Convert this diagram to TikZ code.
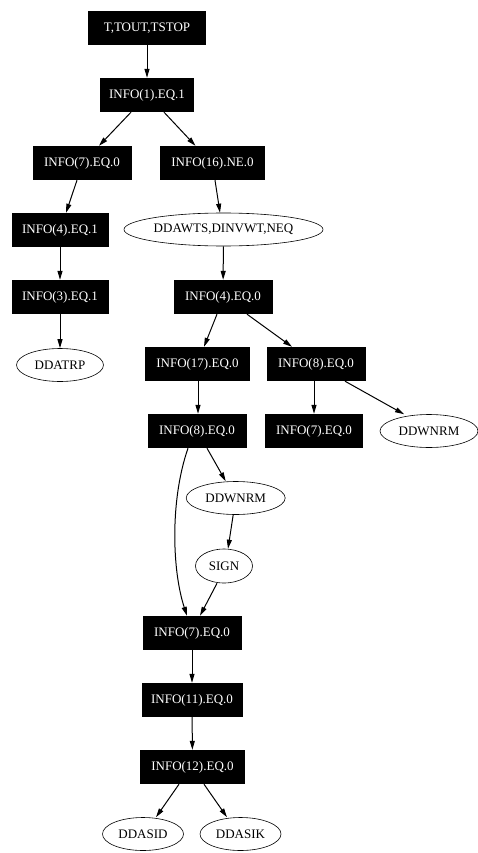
\documentclass[tikz,border=0pt]{standalone}
\usepackage{fontspec}
\setmainfont{Liberation Serif}
\usetikzlibrary{arrows.meta,shapes.geometric}
\begin{document}
\begin{tikzpicture}[x=1pt,y=-1pt,
  font=\fontsize{13}{15}\selectfont,
  cond/.style={fill=black,text=white,minimum height=34pt,inner sep=0pt,minimum width=#1},
  cond/.default=99pt,
  call/.style={draw,ellipse,line width=0.6pt,minimum height=33pt,inner sep=0pt,minimum width=#1},
  call/.default=99pt,
  flow/.style={line width=1pt,-{Triangle[length=9pt,width=5pt]}}]
\useasboundingbox (0,0) rectangle (478,853);
% left branch and top
\node[cond=118pt] (top) at (147,28) {T,TOUT,TSTOP};
\node[cond=94pt] (i1) at (147,95) {INFO(1).EQ.1};
\node[cond=99pt] (i7a) at (82,163) {INFO(7).EQ.0};
\node[cond=105pt] (i16) at (212.5,163) {INFO(16).NE.0};
\node[cond=97pt] (i4a) at (60,230) {INFO(4).EQ.1};
\node[call=199pt] (wts) at (223.5,229.5) {DDAWTS,DINVWT,NEQ};
\node[cond=97pt] (i3) at (60,297) {INFO(3).EQ.1};
\node[cond=99pt] (i4b) at (223,297) {INFO(4).EQ.0};
\node[call=87pt] (trp) at (60,365) {DDATRP};
% right branch
\node[cond=105pt] (i17) at (197.5,364) {INFO(17).EQ.0};
\node[cond=99pt] (i8r) at (316,364) {INFO(8).EQ.0};
\node[cond=99pt] (i8m) at (197,431) {INFO(8).EQ.0};
\node[cond=98pt] (i7r) at (314,431) {INFO(7).EQ.0};
\node[call=98pt] (nrmr) at (429,431) {DDWNRM};
\node[call=99pt] (nrmm) at (235.7,498) {DDWNRM};
\node[call=57pt,minimum height=34pt] (sign) at (224,566) {SIGN};
% lower chain
\node[cond=99pt] (i7b) at (192,633) {INFO(7).EQ.0};
\node[cond=101pt] (i11) at (192,700) {INFO(11).EQ.0};
\node[cond=105pt] (i12) at (192.5,767) {INFO(12).EQ.0};
\node[call=81pt] (sid) at (143,834) {DDASID};
\node[call=81pt] (sik) at (240.5,834) {DDASIK};
% connectors
\draw[flow] (top) -- (i1);
\draw[flow] ([xshift=-16pt]i1.south) -- ([xshift=17pt]i7a.north);
\draw[flow] ([xshift=17pt]i1.south) -- ([xshift=-17pt]i16.north);
\draw[flow] ([xshift=-5pt]i7a.south) -- ([xshift=6pt]i4a.north);
\draw[flow] ([xshift=2.5pt]i16.south) -- ([xshift=-3.5pt]wts.north);
\draw[flow] (i4a) -- (i3);
\draw[flow] (wts) -- (i4b);
\draw[flow] (i3) -- (trp);
\draw[flow] ([xshift=-6pt]i4b.south) -- ([xshift=6.5pt]i17.north);
\draw[flow] ([xshift=24pt]i4b.south) -- ([xshift=-24pt]i8r.north);
\draw[flow] ([xshift=0.5pt]i17.south) -- ([xshift=1pt]i8m.north);
\draw[flow] ([xshift=-2pt]i8r.south) -- (i7r.north);
\draw[flow] ([xshift=29pt]i8r.south) -- ([xshift=-25pt]nrmr.north);
\draw[flow] ([xshift=10pt]i8m.south) -- ([xshift=-10pt]nrmm.north);
\draw[flow] ([xshift=-9pt]i8m.south) .. controls (170,500) and (172,570) .. ([xshift=-5pt]i7b.north);
\draw[flow] ([xshift=-2.5pt]nrmm.south) -- ([xshift=4pt]sign.north);
\draw[flow] ([xshift=-7pt]sign.south) -- ([xshift=8pt]i7b.north);
\draw[flow] (i7b) -- (i11);
\draw[flow] (i11) -- (i12);
\draw[flow] ([xshift=-13.5pt]i12.south) -- ([xshift=13pt]sid.north);
\draw[flow] ([xshift=11.5pt]i12.south) -- ([xshift=-13.5pt]sik.north);
\end{tikzpicture}
\end{document}
